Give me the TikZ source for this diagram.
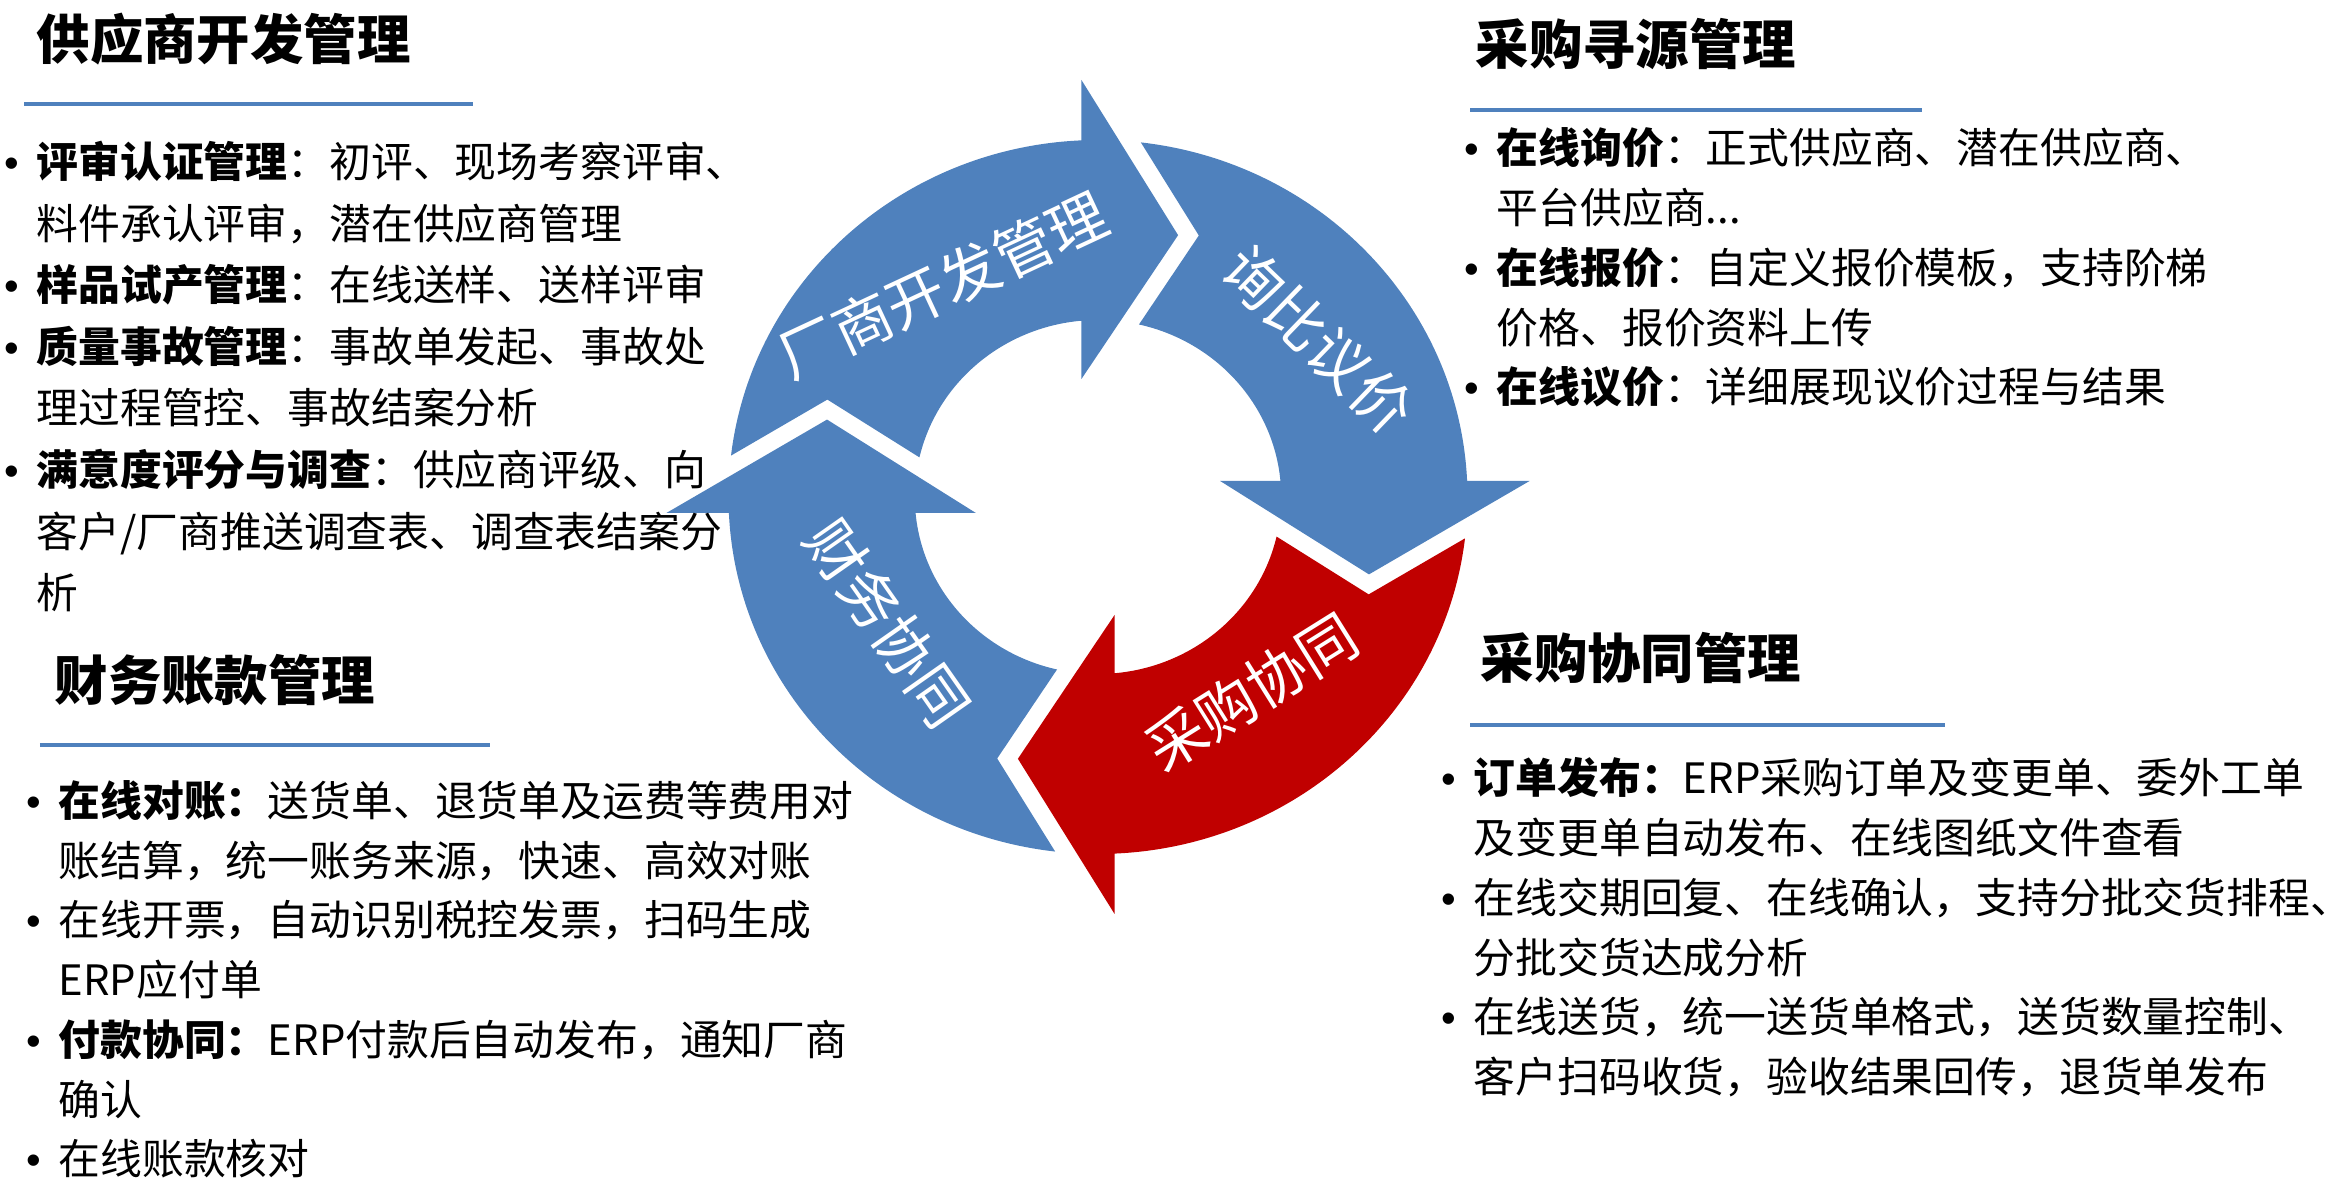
\documentclass[tikz,border=0pt]{standalone}
\usepackage{fontspec}
\setmainfont{Noto Sans CJK SC}
\newfontfamily\bulletfont{Liberation Sans}
\definecolor{cycleblue}{RGB}{79,129,189}
\definecolor{cyclered}{RGB}{192,0,0}
\newcommand{\bul}{\makebox[0.2cm][c]{\bulletfont •}}

\begin{document}
\begin{tikzpicture}[
    heading/.style={anchor=base west, inner sep=0pt, font=\fontsize{15.2}{18}\selectfont\bfseries},
    itemlist/.style={anchor=base west, inner sep=0pt, font=\fontsize{11.9}{17}\selectfont},
    rule/.style={draw=cycleblue, line width=1pt},
    tag/.style={text=white, inner sep=0pt, font=\fontsize{16.8}{20}\selectfont}
  ]
    \useasboundingbox (0,0) rectangle (23.35,11.96);

    \begin{scope}[shift={(10.98,6.99)}, xscale=1.035]
        \foreach \r/\c in {0/cycleblue, -90/cycleblue, -180/cyclered, -270/cycleblue}
            \fill[\c, rotate=\r] (173.34:3.57) -- (-2.615,0.974) -- (167.07:1.77)
                arc[start angle=167.07, end angle=95.19, radius=1.77] -- (-0.16,1.18)
                -- (0.774,2.618) -- (-0.16,4.17) -- (92.57:3.57)
                arc[start angle=92.57, end angle=173.34, radius=3.57] -- cycle;
    \end{scope}

    \node[tag, rotate=25] (dev) at (9.43,9.11) {厂商开发管理};
    \node[tag, rotate=-44] (rfq) at (13.18,8.56) {询比议价};
    \node[tag, rotate=32] (buy) at (12.52,5.04) {采购协同};
    \node[tag, rotate=-55] (fin) at (8.88,5.73) {财务协同};

    \node[heading] (devtitle) at (0.36,11.36) {供应商开发管理};
    \draw[rule] (0.24,10.92) -- (4.73,10.92);
    \node[itemlist, font=\fontsize{11.9}{17.5}\selectfont] (devlist) at (0.01,10.18) {\begin{tabular}[t]{@{}p{0.35cm}@{}l@{}}
        \bul & \textbf{评审认证管理}：初评、现场考察评审、\\
             & 料件承认评审，潜在供应商管理\\
        \bul & \textbf{样品试产管理}：在线送样、送样评审\\
        \bul & \textbf{质量事故管理}：事故单发起、事故处\\
             & 理过程管控、事故结案分析\\
        \bul & \textbf{满意度评分与调查}：供应商评级、向\\
             & 客户/厂商推送调查表、调查表结案分\\
             & 析
    \end{tabular}};

    \node[heading] (srctitle) at (14.75,11.31) {采购寻源管理};
    \draw[rule] (14.70,10.86) -- (19.22,10.86);
    \node[itemlist] (srclist) at (14.61,10.32) {\begin{tabular}[t]{@{}p{0.35cm}@{}l@{}}
        \bul & \textbf{在线询价}：正式供应商、潜在供应商、\\
             & 平台供应商...\\
        \bul & \textbf{在线报价}：自定义报价模板，支持阶梯\\
             & 价格、报价资料上传\\
        \bul & \textbf{在线议价}：详细展现议价过程与结果
    \end{tabular}};

    \node[heading] (fintitle) at (0.54,4.95) {财务账款管理};
    \draw[rule] (0.40,4.51) -- (4.90,4.51);
    \node[itemlist] (finlist) at (0.23,3.795) {\begin{tabular}[t]{@{}p{0.35cm}@{}l@{}}
        \bul & \textbf{在线对账：}送货单、退货单及运费等费用对\\
             & 账结算，统一账务来源，快速、高效对账\\
        \bul & 在线开票，自动识别税控发票，扫码生成\\
             & ERP应付单\\
        \bul & \textbf{付款协同：}ERP付款后自动发布，通知厂商\\
             & 确认\\
        \bul & 在线账款核对
    \end{tabular}};

    \node[heading] (buytitle) at (14.80,5.17) {采购协同管理};
    \draw[rule] (14.70,4.71) -- (19.45,4.71);
    \node[itemlist] (buylist) at (14.38,4.02) {\begin{tabular}[t]{@{}p{0.35cm}@{}l@{}}
        \bul & \textbf{订单发布：}ERP采购订单及变更单、委外工单\\
             & 及变更单自动发布、在线图纸文件查看\\
        \bul & 在线交期回复、在线确认，支持分批交货排程、\\
             & 分批交货达成分析\\
        \bul & 在线送货，统一送货单格式，送货数量控制、\\
             & 客户扫码收货，验收结果回传，退货单发布
    \end{tabular}};
\end{tikzpicture}
\end{document}
